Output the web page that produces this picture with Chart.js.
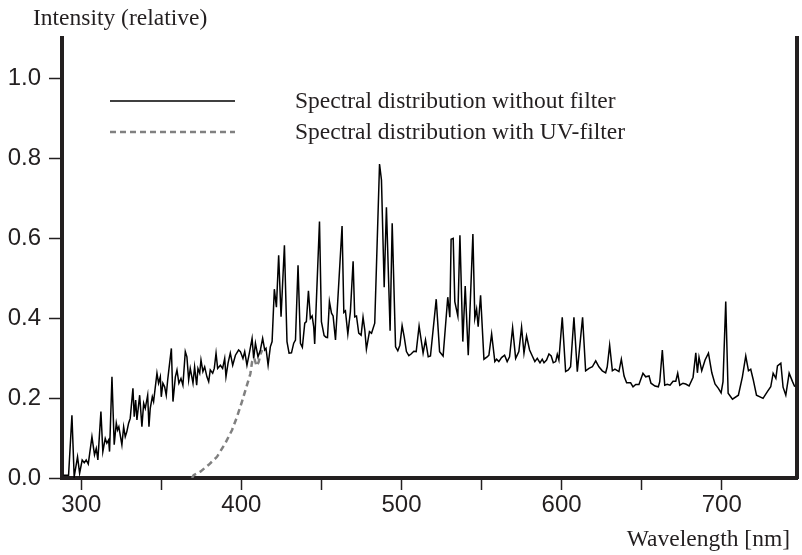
<!DOCTYPE html>
<html>
<head>
<meta charset="utf-8">
<script src="https://cdn.jsdelivr.net/npm/chart.js@4"></script>
<style>
  html, body { margin: 0; padding: 0; background: #fff; }
  canvas { display: block; }
</style>
</head>
<body>
<canvas id="spectrum" width="802" height="555"></canvas>
<script>
(() => {
  // ***************** Data *****************
  const Y_TITLE = "Intensity (relative)";
  const X_TITLE = "Wavelength [nm]";
  const LABEL_NO_FILTER = "Spectral distribution without filter";
  const LABEL_UV_FILTER = "Spectral distribution with UV-filter";

  const xTicks = [300, 350, 400, 450, 500, 550, 600, 650, 700];
  const yTicks = [0, 0.2, 0.4, 0.6, 0.8, 1.0];

  // wavelength (nm) / relative intensity, without filter
  const noFilterNm = [
    289.0, 292.1, 294.2, 295.6, 297.7, 299.0, 300.6, 301.9, 303.1, 304.4,
    306.7, 308.3, 309.4, 310.4, 312.3, 313.5, 315.0, 316.0, 317.1, 317.7,
    319.2, 320.6, 321.9, 322.7, 323.5, 325.4, 326.5, 327.5, 328.5, 329.6,
    330.6, 332.3, 333.1, 334.0, 334.8, 336.5, 337.9, 339.0, 340.0, 341.5,
    342.3, 343.1, 344.4, 345.2, 347.3, 348.3, 349.4, 350.0, 351.0, 352.1,
    353.1, 354.0, 354.6, 356.3, 357.3, 358.8, 359.8, 361.0, 362.3, 363.5,
    365.0, 366.0, 367.1, 368.1, 369.8, 370.8, 372.1, 372.9, 374.0, 374.8,
    376.0, 377.1, 378.5, 379.6, 380.6, 382.1, 383.1, 384.2, 385.2, 386.9,
    388.3, 389.6, 390.4, 391.7, 393.1, 394.6, 396.3, 398.3, 399.4, 401.0,
    402.1, 403.5, 405.0, 406.7, 407.7, 408.8, 410.4, 411.9, 413.3, 414.6,
    415.4, 416.7, 418.1, 419.2, 420.6, 421.9, 423.3, 424.8, 426.9, 428.5,
    429.8, 431.3, 432.7, 433.8, 435.4, 436.9, 438.1, 439.6, 440.6, 441.9,
    443.1, 444.2, 445.2, 445.8, 448.8, 450.0, 451.7, 452.9, 453.8, 455.0,
    456.3, 457.3, 458.8, 462.9, 464.0, 465.0, 466.5, 468.1, 469.8, 470.8,
    471.9, 473.3, 474.8, 476.0, 477.1, 478.1, 480.0, 481.3, 483.3, 486.3,
    487.5, 489.2, 490.6, 492.9, 494.2, 496.3, 497.7, 499.0, 500.4, 501.7,
    503.1, 504.6, 506.0, 507.7, 509.2, 511.0, 512.3, 513.5, 515.0, 516.7,
    518.1, 521.7, 523.8, 526.0, 528.9, 530.2, 531.0, 532.3, 533.3, 535.2,
    536.5, 538.3, 539.8, 541.7, 544.6, 545.8, 546.9, 547.9, 549.4, 551.5,
    553.5, 554.6, 556.3, 558.3, 559.4, 560.8, 562.5, 564.4, 566.0, 567.5,
    569.4, 571.3, 573.3, 575.0, 576.5, 578.1, 580.0, 581.7, 583.3, 584.8,
    586.5, 587.9, 589.0, 590.6, 592.1, 593.5, 594.8, 596.3, 597.3, 598.3,
    600.4, 602.5, 604.2, 605.6, 607.7, 609.8, 613.1, 615.0, 617.1, 619.2,
    621.3, 623.3, 625.4, 627.5, 628.5, 630.0, 631.7, 633.3, 635.8, 637.3,
    639.0, 640.6, 643.1, 644.6, 646.3, 648.3, 650.8, 652.5, 654.6, 655.8,
    658.3, 660.4, 661.3, 662.9, 664.4, 666.0, 667.7, 669.6, 671.3, 672.5,
    673.8, 675.8, 677.5, 679.6, 682.1, 683.8, 684.8, 685.8, 687.5, 689.6,
    691.7, 693.8, 695.8, 697.9, 699.6, 700.8, 702.5, 704.0, 706.7, 710.4,
    712.9, 715.0, 716.7, 718.1, 719.6, 721.7, 725.8, 728.5, 730.6, 732.1,
    733.8, 734.8, 736.9, 738.3, 740.0, 742.1, 744.2, 745.6
  ];
  const noFilterVal = [
    0.007, 0.007, 0.157, 0.003, 0.053, 0.012, 0.045, 0.038, 0.045, 0.035,
    0.103, 0.058, 0.074, 0.045, 0.166, 0.066, 0.099, 0.087, 0.095, 0.066,
    0.253, 0.083, 0.137, 0.120, 0.128, 0.083, 0.128, 0.103, 0.116, 0.137,
    0.149, 0.224, 0.153, 0.195, 0.145, 0.207, 0.128, 0.187, 0.174, 0.207,
    0.128, 0.174, 0.203, 0.191, 0.262, 0.237, 0.253, 0.203, 0.237, 0.228,
    0.207, 0.245, 0.266, 0.324, 0.191, 0.253, 0.270, 0.237, 0.249, 0.232,
    0.316, 0.303, 0.245, 0.274, 0.237, 0.278, 0.232, 0.274, 0.262, 0.295,
    0.266, 0.278, 0.253, 0.241, 0.270, 0.262, 0.274, 0.312, 0.274, 0.282,
    0.274, 0.299, 0.253, 0.287, 0.312, 0.282, 0.307, 0.320, 0.316, 0.299,
    0.316, 0.282, 0.312, 0.349, 0.299, 0.337, 0.303, 0.320, 0.349, 0.320,
    0.324, 0.282, 0.328, 0.341, 0.472, 0.427, 0.557, 0.403, 0.582, 0.341,
    0.312, 0.313, 0.337, 0.345, 0.532, 0.337, 0.327, 0.387, 0.391, 0.468,
    0.399, 0.405, 0.378, 0.335, 0.641, 0.391, 0.356, 0.352, 0.351, 0.441,
    0.412, 0.405, 0.345, 0.630, 0.414, 0.418, 0.360, 0.416, 0.542, 0.403,
    0.405, 0.362, 0.357, 0.402, 0.370, 0.322, 0.366, 0.362, 0.387, 0.785,
    0.745, 0.477, 0.677, 0.368, 0.637, 0.328, 0.318, 0.332, 0.381, 0.353,
    0.316, 0.306, 0.310, 0.317, 0.316, 0.380, 0.345, 0.312, 0.345, 0.303,
    0.305, 0.447, 0.316, 0.305, 0.452, 0.402, 0.597, 0.599, 0.441, 0.405,
    0.607, 0.341, 0.480, 0.307, 0.610, 0.399, 0.422, 0.378, 0.457, 0.297,
    0.303, 0.307, 0.360, 0.291, 0.297, 0.291, 0.301, 0.307, 0.291, 0.303,
    0.376, 0.299, 0.316, 0.377, 0.312, 0.355, 0.320, 0.305, 0.291, 0.299,
    0.288, 0.297, 0.288, 0.295, 0.310, 0.305, 0.288, 0.291, 0.309, 0.295,
    0.402, 0.266, 0.270, 0.278, 0.402, 0.266, 0.402, 0.268, 0.274, 0.278,
    0.293, 0.278, 0.268, 0.263, 0.278, 0.332, 0.268, 0.272, 0.266, 0.297,
    0.255, 0.238, 0.238, 0.228, 0.234, 0.234, 0.262, 0.253, 0.255, 0.237,
    0.230, 0.228, 0.241, 0.320, 0.232, 0.234, 0.232, 0.242, 0.242, 0.262,
    0.232, 0.237, 0.235, 0.230, 0.252, 0.313, 0.263, 0.302, 0.268, 0.295,
    0.312, 0.263, 0.235, 0.224, 0.213, 0.241, 0.441, 0.212, 0.197, 0.207,
    0.253, 0.305, 0.268, 0.272, 0.247, 0.207, 0.199, 0.216, 0.228, 0.262,
    0.249, 0.280, 0.287, 0.227, 0.207, 0.262, 0.241, 0.228
  ];

  // wavelength (nm) / relative intensity, with UV-filter
  const uvFilterNm = [
    369.2, 370.2, 374.4, 379.6, 384.8, 390.0, 394.2, 397.3, 400.4, 403.5,
    405.6, 406.7, 408.0, 409.5, 410.8, 412.0, 413.0
  ];
  const uvFilterVal = [
    0.000, 0.007, 0.016, 0.033, 0.053, 0.087, 0.120, 0.153, 0.191, 0.232,
    0.260, 0.290, 0.300, 0.280, 0.290, 0.310, 0.320
  ];

  // ***************** Style *****************
  const INK = "#231f20";
  const SANS = '"Liberation Sans", Arial, Helvetica, sans-serif';
  const SERIF = '"Liberation Serif", "Times New Roman", serif';

  // axis titles + legend drawn in the positions of the original figure
  const annotations = {
    id: "annotations",
    afterDraw(chart) {
      const ctx = chart.ctx;
      ctx.save();
      ctx.fillStyle = INK;
      ctx.font = `23.5px ${SERIF}`;
      ctx.textBaseline = "alphabetic";
      ctx.textAlign = "left";
      ctx.fillText(Y_TITLE, 33, 25);
      ctx.textAlign = "right";
      ctx.fillText(X_TITLE, 790, 546);

      ctx.textAlign = "left";
      ctx.textBaseline = "middle";
      chart.data.datasets.forEach((ds, i) => {
        const y = 101 + i * 31;
        ctx.strokeStyle = ds.borderColor;
        ctx.lineWidth = ds.borderWidth;
        ctx.setLineDash(ds.borderDash || []);
        ctx.beginPath();
        ctx.moveTo(110, y);
        ctx.lineTo(235, y);
        ctx.stroke();
        ctx.fillText(ds.label, 295, y + 1);
      });
      ctx.restore();
    },
  };

  const data = {
    datasets: [
      {
        label: LABEL_NO_FILTER,
        data: noFilterNm.map((x, i) => ({ x: x, y: noFilterVal[i] })),
        borderColor: "#000",
        borderWidth: 1.5,
        pointRadius: 0,
        tension: 0,
      },
      {
        label: LABEL_UV_FILTER,
        data: uvFilterNm.map((x, i) => ({ x: x, y: uvFilterVal[i] })),
        borderColor: "#808080",
        borderWidth: 2.5,
        borderDash: [6, 4],
        pointRadius: 0,
        tension: 0,
      },
    ],
  };

  const config = {
    type: "line",
    data: data,
    plugins: [annotations],
    options: {
      responsive: false,
      animation: false,
      layout: { padding: { top: 38 } },
      plugins: {
        legend: { display: false },
        tooltip: { enabled: false },
      },
      scales: {
        x: {
          type: "linear",
          min: 288,
          max: 747,
          afterBuildTicks: (axis) => {
            axis.ticks = xTicks.map((v) => ({ value: v }));
          },
          afterFit: (axis) => {
            axis.height = 77;
          },
          grid: {
            drawOnChartArea: false,
            tickLength: 12,
            tickWidth: 1.5,
            tickColor: INK,
          },
          border: { width: 4, color: INK },
          ticks: {
            callback: (v) => (v % 100 === 0 ? String(v) : ""),
            font: { family: SANS, size: 24 },
            color: INK,
            padding: 1,
            maxRotation: 0,
            autoSkip: false,
          },
        },
        y: {
          min: 0,
          max: 1.1,
          afterBuildTicks: (axis) => {
            axis.ticks = yTicks.map((v) => ({ value: v }));
          },
          afterFit: (axis) => {
            axis.width = 62;
          },
          grid: {
            drawOnChartArea: false,
            tickLength: 13,
            tickWidth: 1.5,
            tickColor: INK,
          },
          border: { width: 4, color: INK },
          ticks: {
            callback: (v) => Number(v).toFixed(1),
            font: { family: SANS, size: 24 },
            color: INK,
            padding: 8,
          },
        },
        y2: {
          position: "right",
          min: 0,
          max: 1.1,
          afterFit: (axis) => {
            axis.width = 5;
          },
          grid: { display: false, drawTicks: false },
          border: { width: 4, color: INK },
          ticks: { display: false },
        },
      },
    },
  };

  new Chart(document.getElementById("spectrum"), config);
})();
</script>
</body>
</html>
